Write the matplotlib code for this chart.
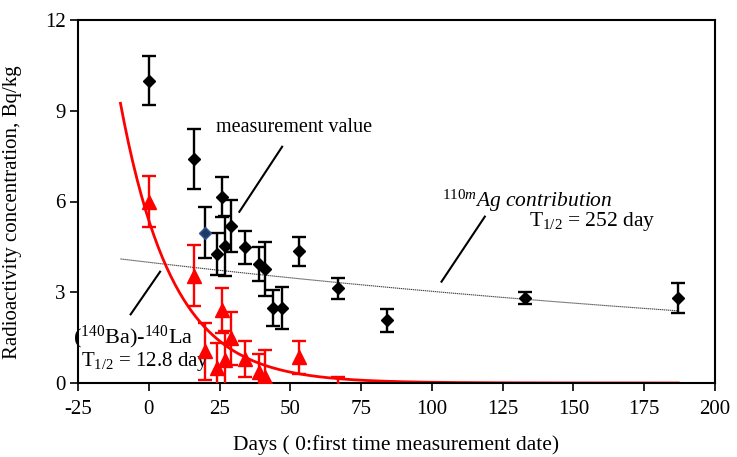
import numpy as np
import matplotlib
matplotlib.use("Agg")
import matplotlib.pyplot as plt

plt.rcParams['font.family'] = ['Liberation Serif', 'DejaVu Serif']
plt.rcParams['mathtext.fontset'] = 'custom'
plt.rcParams['mathtext.rm'] = 'Liberation Serif'
plt.rcParams['mathtext.it'] = 'Liberation Serif:italic'
plt.rcParams['mathtext.default'] = 'regular'
plt.rcParams['axes.unicode_minus'] = False

# Measured values (black diamonds)
days_meas = [0, 16, 24, 26, 27, 29, 34, 39, 41, 44, 47, 53, 67, 84, 133, 187]
conc_meas = [10.0, 7.4, 4.26, 6.15, 4.53, 5.19, 4.49, 3.93, 3.77, 2.48, 2.48, 4.35, 3.13, 2.08, 2.80, 2.80]
err_meas = [0.8, 1.0, 0.7, 0.65, 1.0, 0.85, 0.55, 0.55, 0.9, 0.58, 0.7, 0.48, 0.34, 0.38, 0.2, 0.5]

# Highlighted measurement (blue diamond)
days_blue = [20]
conc_blue = [4.97]
err_blue = [0.85]

# 140Ba-140La contribution (red triangles)
days_la = [0, 16, 20, 24, 26, 27, 29, 34, 39, 41, 53, 67]
conc_la = [6.0, 3.55, 1.05, 0.48, 2.4, 0.76, 1.48, 0.79, 0.37, 0.19, 0.85, -0.2]
err_la = [0.85, 1.0, 0.95, 0.85, 0.75, 0.95, 0.88, 0.6, 0.6, 0.9, 0.55, 0.4]

# Decay curves
ag_a0, ag_half = 3.99, 252.0
la_a0, la_half = 5.38, 12.8
curve_start, curve_end = -10, 187

x_ticks = [-25, 0, 25, 50, 75, 100, 125, 150, 175, 200]
y_ticks = [0, 3, 6, 9, 12]

fig = plt.figure(figsize=(7.37, 4.57), dpi=100)
ax = fig.add_axes([78/737, 1-383/457, (715-78)/737, (383-20)/457])

t = np.linspace(curve_start, curve_end, 400)
ax.plot(t, ag_a0*np.exp(-np.log(2)*t/ag_half), color='#444444', lw=0.8,
        linestyle=(0, (1.2, 0.6)), zorder=2)
ax.plot(t, la_a0*np.exp(-np.log(2)*t/la_half), color='red', lw=2.0, zorder=2)

ax.errorbar(days_meas, conc_meas, yerr=err_meas, fmt='D', color='black', ms=6.5,
            capsize=5, elinewidth=1.7, capthick=1.7, zorder=4)
ax.errorbar(days_blue, conc_blue, yerr=err_blue, fmt='D', color='black', mfc='#1f3864',
            mec='#2f5597', ms=6.5, capsize=5, elinewidth=1.7, capthick=1.7, zorder=4)
ax.errorbar(days_la, conc_la, yerr=err_la, fmt='^', color='red', ms=10,
            capsize=5, elinewidth=1.7, capthick=1.7, zorder=3)

ax.set_xlim(-25, 200)
ax.set_ylim(0, 12)
ax.set_xticks(x_ticks)
ax.set_yticks(y_ticks)
ax.tick_params(axis='x', direction='out', length=6, width=1.2, labelsize=15, pad=6)
ax.tick_params(axis='y', direction='out', length=6, width=1.2, labelsize=15, pad=3)
for s in ax.spines.values():
    s.set_linewidth(1.5)

ax.set_xlabel('Days ( 0:first time measurement date)', fontsize=15.5, labelpad=12)
ax.set_ylabel('Radioactivity concentration, Bq/kg', fontsize=15)
ax.yaxis.set_label_coords(-0.088, 0.47)

# annotations
ax.text(23.8, 8.43, 'measurement value', fontsize=14.5, va='center', ha='left')
ax.plot([47.1, 32.0], [7.81, 5.66], color='black', lw=1.5)

ax.text(103.5, 6.03, r'$\mathit{^{110m}Ag\ contribution}$', fontsize=15.5, va='center', ha='left')
ax.text(134.2, 5.33, r'T$_{1/2}$ = 252 day', fontsize=15.5, va='center', ha='left')
ax.plot([118.7, 103.4], [5.50, 3.35], color='black', lw=1.5)

ax.text(-26.9, 1.52, r'($^{140}$Ba)-$^{140}$La', fontsize=16, va='center', ha='left', clip_on=False)
ax.text(-23.9, 0.72, r'T$_{1/2}$ = 12.8 day', fontsize=15, va='center', ha='left', clip_on=False)
ax.plot([4.0, -6.4], [3.68, 2.27], color='black', lw=1.5)

fig.savefig('out.png', dpi=100)
